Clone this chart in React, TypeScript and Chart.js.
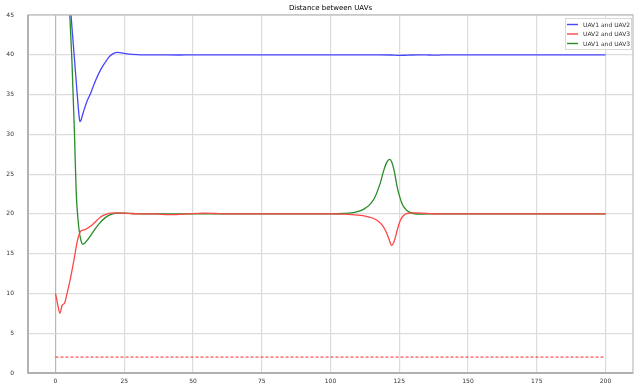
import { useEffect, useRef } from "react";
import { Chart, registerables } from "chart.js";

Chart.register(...registerables);

// Labels
const chartTitle = "Distance between UAVs";
const seriesNames = ["UAV1 and UAV2", "UAV2 and UAV3", "UAV1 and UAV3"];
const xTicks = [0, 25, 50, 75, 100, 125, 150, 175, 200];
const yTicks = [0, 5, 10, 15, 20, 25, 30, 35, 40, 45];

// UAV1 - UAV2 distance
const t12 = [0, 2, 4, 5, 6, 7, 7.5, 8, 8.6, 8.9, 9.3, 9.8, 10.5, 11.5, 12.7, 14.5, 16.4, 18, 19.4, 21, 22.5, 24, 26, 28, 31, 35, 40, 45, 50, 60, 70, 80, 90, 100, 110, 118, 122, 125, 128, 132, 136, 139, 142, 150, 160, 170, 180, 190, 200];
const d12 = [70.5, 61.5, 52.5, 48, 43.4, 39, 36.8, 34.6, 32.2, 31.6, 31.8, 32.4, 33.2, 34.2, 35.1, 36.7, 38.1, 39.0, 39.7, 40.15, 40.3, 40.25, 40.12, 40.05, 40.0, 40.0, 39.98, 39.97, 40.0, 40.0, 40.0, 40.0, 40.0, 40.0, 40.0, 40.0, 39.97, 39.92, 39.95, 40.0, 39.97, 39.95, 40.0, 40.0, 40.0, 40.0, 40.0, 40.0, 40.0];

// UAV2 - UAV3 distance
const t23 = [0, 0.8, 1.6, 2.4, 3.3, 4.2, 5.5, 6.7, 7.9, 8.6, 9.1, 10, 10.9, 13.3, 16.4, 18.5, 20, 22, 25, 28, 32, 36, 41, 44, 48, 54, 58, 62, 70, 80, 90, 100, 105, 110, 113, 115.5, 117.5, 119, 120.3, 121.3, 122.2, 123.2, 124.3, 125.3, 126.3, 127.9, 130, 133, 137, 140, 150, 160, 170, 180, 190, 200];
const d23 = [10.0, 8.6, 7.5, 8.5, 8.8, 10.0, 12.0, 14.2, 16.5, 17.4, 17.8, 17.95, 18.05, 18.6, 19.6, 19.95, 20.1, 20.12, 20.1, 20.02, 20.0, 20.0, 19.9, 19.92, 20.0, 20.1, 20.05, 20.0, 20.0, 20.0, 20.0, 20.0, 19.97, 19.85, 19.7, 19.45, 19.05, 18.5, 17.7, 16.8, 16.05, 16.6, 18.0, 19.1, 19.7, 20.05, 20.12, 20.1, 20.02, 20.0, 20.0, 20.0, 20.0, 20.0, 20.0, 20.0];

// UAV1 - UAV3 distance
const t13 = [0, 2, 4, 5.2, 6, 6.9, 7.5, 8.5, 9.3, 9.9, 10.6, 12, 14, 16, 18, 20, 22, 25, 28, 32, 40, 50, 60, 70, 80, 90, 100, 105, 108, 111, 113, 114.6, 116, 117, 118.2, 119.4, 120.5, 121.5, 122.3, 123.1, 124.3, 125.2, 126.1, 127.3, 128.5, 130.2, 133, 140, 150, 160, 170, 180, 190, 200];
const d13 = [85, 70, 54, 45, 39, 30.1, 23.0, 18.2, 16.6, 16.2, 16.3, 16.9, 17.9, 18.8, 19.5, 19.9, 20.1, 20.1, 20.05, 20.0, 20.0, 20.0, 20.0, 20.0, 20.0, 20.0, 20.0, 20.05, 20.15, 20.4, 20.8, 21.3, 22.0, 22.8, 24.0, 25.5, 26.5, 26.85, 26.5, 25.5, 23.3, 22.1, 21.2, 20.6, 20.25, 20.05, 19.98, 20.0, 20.0, 20.0, 20.0, 20.0, 20.0, 20.0];

// Minimum safe distance
const tSafe = [0, 200];
const dSafe = [2, 2];

const colors = ["rgb(70,70,255)", "rgb(255,70,70)", "rgb(40,140,40)"];
const FONT = "'DejaVu Sans', sans-serif";

const pairs = (t: number[], d: number[]) => t.map((x, i) => ({ x, y: d[i] }));

const decorations = {
  id: "decorations",
  afterDraw(chart: any) {
    const { ctx, chartArea } = chart;
    const { left, right, top, bottom } = chartArea;
    ctx.save();
    // frame
    ctx.strokeStyle = "#bdbdbd";
    ctx.lineWidth = 1.2;
    ctx.strokeRect(left, top, right - left, bottom - top);
    ctx.strokeStyle = "#a6a6a6";
    ctx.lineWidth = 1.5;
    ctx.beginPath();
    ctx.moveTo(left, top);
    ctx.lineTo(left, bottom);
    ctx.lineTo(right, bottom);
    ctx.stroke();

    // title
    ctx.fillStyle = "#000";
    ctx.font = `7px ${FONT}`;
    ctx.textAlign = "center";
    ctx.textBaseline = "middle";
    ctx.fillText(chartTitle, (left + right) / 2, 8.5);

    // legend
    const bx = right - 68;
    const by = top + 3;
    const bw = 66;
    const bh = 31;
    ctx.fillStyle = "rgba(255,255,255,0.85)";
    ctx.fillRect(bx, by, bw, bh);
    ctx.strokeStyle = "#d8d8d8";
    ctx.lineWidth = 1;
    ctx.strokeRect(bx + 0.5, by + 0.5, bw, bh);
    ctx.font = `6px ${FONT}`;
    ctx.textAlign = "left";
    seriesNames.forEach((name, i) => {
      const y = by + 6.5 + i * 9.5;
      ctx.strokeStyle = colors[i];
      ctx.lineWidth = 1.4;
      ctx.beginPath();
      ctx.moveTo(bx + 2, y);
      ctx.lineTo(bx + 13, y);
      ctx.stroke();
      ctx.fillStyle = "#333";
      ctx.fillText(name, bx + 18, y + 0.5);
    });
    ctx.restore();
  },
};

export default function App() {
  const canvasRef = useRef<HTMLCanvasElement | null>(null);

  useEffect(() => {
    document.body.style.margin = "0";
    const canvas = canvasRef.current;
    if (!canvas) return;
    const line = (label: string, data: any, color: string, extra: any = {}) => ({
      label,
      data,
      borderColor: color,
      backgroundColor: color,
      borderWidth: 1.3,
      pointRadius: 0,
      pointHoverRadius: 0,
      cubicInterpolationMode: "monotone",
      fill: false,
      clip: 0,
      ...extra,
    });
    const chart = new Chart(canvas, {
      type: "line",
      data: {
        datasets: [
          line(seriesNames[0], pairs(t12, d12), colors[0]),
          line(seriesNames[1], pairs(t23, d23), colors[1]),
          line(seriesNames[2], pairs(t13, d13), colors[2]),
          line("safe", pairs(tSafe, dSafe), "rgb(255,40,40)", { borderDash: [3, 2], borderWidth: 1 }),
        ],
      },
      options: {
        animation: false,
        responsive: true,
        maintainAspectRatio: false,
        layout: { autoPadding: false, padding: { top: 15, right: 8, left: 0, bottom: 0 } },
        plugins: { legend: { display: false }, title: { display: false }, tooltip: { enabled: false } },
        scales: {
          x: {
            type: "linear",
            min: -10,
            max: 210,
            afterBuildTicks: (s: any) => {
              s.ticks = xTicks.map((v) => ({ value: v }));
            },
            afterFit: (s: any) => {
              s.height = 14;
              s.paddingLeft = 0;
              s.paddingRight = 0;
            },
            grid: {
              color: (c: any) => (c.tick && c.tick.value === 0 ? "#b8b8b8" : "#dcdcdc"),
              lineWidth: 1.2,
              drawTicks: false,
            },
            border: { display: false },
            ticks: { font: { family: FONT, size: 6 }, color: "#333", padding: 5, maxRotation: 0 },
          },
          y: {
            type: "linear",
            min: 0,
            max: 45,
            afterBuildTicks: (s: any) => {
              s.ticks = yTicks.map((v) => ({ value: v }));
            },
            afterFit: (s: any) => {
              s.width = 28;
              s.paddingTop = 0;
              s.paddingBottom = 0;
            },
            grid: { color: "#dcdcdc", lineWidth: 1.2, drawTicks: false },
            border: { display: false },
            ticks: { font: { family: FONT, size: 6 }, color: "#333", padding: 14 },
          },
        },
      },
      plugins: [decorations],
    } as any);
    return () => chart.destroy();
  }, []);

  return (
    <div style={{ position: "fixed", left: 0, top: 0, width: 641, height: 387, background: "#fff" }}>
      <canvas ref={canvasRef} />
    </div>
  );
}
